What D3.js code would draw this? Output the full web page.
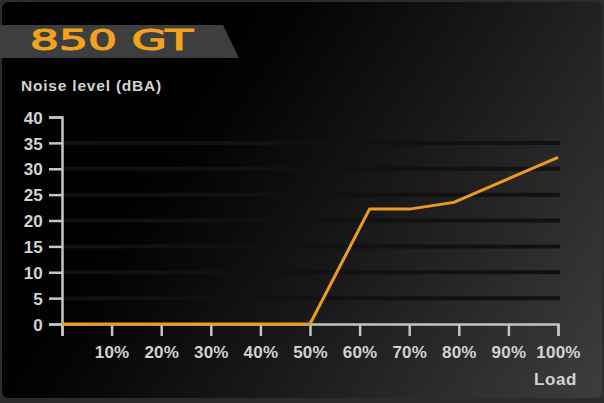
<!DOCTYPE html>
<html>
<head>
<meta charset="utf-8">
<script src="https://cdn.jsdelivr.net/npm/d3@7"></script>
<style>
  html, body { margin: 0; padding: 0; background: #333; }
  svg { display: block; }
  .tick text { font-family: "Liberation Sans", Arial, sans-serif; font-weight: bold; }
</style>
</head>
<body>
<script>
'use strict';

// chart values
var loads = [0, 10, 20, 30, 40, 50, 62, 70, 79, 100];
var noise = [0, 0, 0, 0, 0, 0, 22.2, 22.2, 23.5, 32.2];
var yTicks = [0, 5, 10, 15, 20, 25, 30, 35, 40];
var xTicks = [0, 10, 20, 30, 40, 50, 60, 70, 80, 90, 100];
var gridValues = [5, 10, 15, 20, 25, 30, 35];

var settings = {
    width: 604,
    height: 403,
    left: 62,
    right: 558,
    top: 117,
    bottom: 324,
    axis_color: '#c4c4c4',
    line_color: '#eb9c1f',
    text_color: '#d2d2d2'
};

var svg = d3.select('body').append('svg')
    .attr('width', settings.width)
    .attr('height', settings.height);

var defs = svg.append('defs');
var bg = defs.append('linearGradient')
    .attr('id', 'bg')
    .attr('gradientUnits', 'userSpaceOnUse')
    .attr('x1', 0).attr('y1', 0)
    .attr('x2', settings.width).attr('y2', settings.height);
bg.append('stop').attr('offset', 0).attr('stop-color', '#000');
bg.append('stop').attr('offset', 0.33).attr('stop-color', '#020202');
bg.append('stop').attr('offset', 0.62).attr('stop-color', '#1b1b1b');
bg.append('stop').attr('offset', 1).attr('stop-color', '#3e3e3e');

// frame + panel
svg.append('rect')
    .attr('width', settings.width).attr('height', settings.height)
    .attr('fill', '#2c2c2c');
svg.append('rect')
    .attr('x', 2).attr('y', 2)
    .attr('width', settings.width - 4).attr('height', settings.height - 7)
    .attr('rx', 6)
    .attr('fill', 'url(#bg)');

// title banner
svg.append('path')
    .attr('d', 'M0,25H223L239,58H0Z')
    .attr('fill', '#3c3f3e');
svg.append('text')
    .attr('x', 30).attr('y', 50)
    .attr('textLength', 163)
    .attr('lengthAdjust', 'spacingAndGlyphs')
    .style('font-family', '"DejaVu Sans", sans-serif')
    .style('font-size', '27.5px')
    .attr('fill', '#f3a21c')
    .attr('stroke', '#f3a21c')
    .attr('stroke-width', 1.1)
    .text('850 GT');

svg.append('text')
    .attr('x', 21).attr('y', 91)
    .style('font-family', '"Liberation Sans", Arial, sans-serif')
    .style('font-weight', 'bold')
    .style('font-size', '15.5px')
    .style('letter-spacing', '0.8px')
    .attr('fill', settings.text_color)
    .text('Noise level (dBA)');

var x = d3.scaleLinear().domain([0, 100]).range([settings.left, settings.right]);
var y = d3.scaleLinear().domain([0, 40]).range([settings.bottom, settings.top]);

// horizontal stripes
svg.append('g').selectAll('line')
    .data(gridValues)
    .enter().append('line')
    .attr('x1', x(0)).attr('x2', x(100) + 2)
    .attr('y1', function (d) { return y(d); })
    .attr('y2', function (d) { return y(d); })
    .attr('stroke', '#111')
    .attr('stroke-width', 4);

var yAxis = svg.append('g')
    .attr('transform', 'translate(' + settings.left + ',0)')
    .call(d3.axisLeft(y).tickValues(yTicks).tickSize(13).tickPadding(6));

var xAxis = svg.append('g')
    .attr('transform', 'translate(0,' + settings.bottom + ')')
    .call(d3.axisBottom(x).tickValues(xTicks).tickSize(12).tickPadding(10)
        .tickFormat(function (d) { return d ? d + '%' : ''; }));

[yAxis, xAxis].forEach(function (a) {
    a.select('.domain').attr('stroke', settings.axis_color).attr('stroke-width', 2.5);
    a.selectAll('.tick line').attr('stroke', settings.axis_color).attr('stroke-width', 2.5);
    a.selectAll('.tick text')
        .attr('fill', settings.text_color)
        .style('font-size', '17px')
        .style('letter-spacing', '0.2px');
});
yAxis.selectAll('.tick text').attr('dy', '0.36em');

svg.append('text')
    .attr('x', 577).attr('y', 385)
    .attr('text-anchor', 'end')
    .style('font-family', '"Liberation Sans", Arial, sans-serif')
    .style('font-weight', 'bold')
    .style('font-size', '17px')
    .style('letter-spacing', '0.6px')
    .attr('fill', settings.text_color)
    .text('Load');

// noise curve
var line = d3.line()
    .x(function (d, i) { return x(loads[i]); })
    .y(function (d) { return y(d); });

svg.append('path')
    .datum(noise)
    .attr('d', line)
    .attr('fill', 'none')
    .attr('stroke', settings.line_color)
    .attr('stroke-width', 3)
    .attr('stroke-linejoin', 'round');
</script>
</body>
</html>
